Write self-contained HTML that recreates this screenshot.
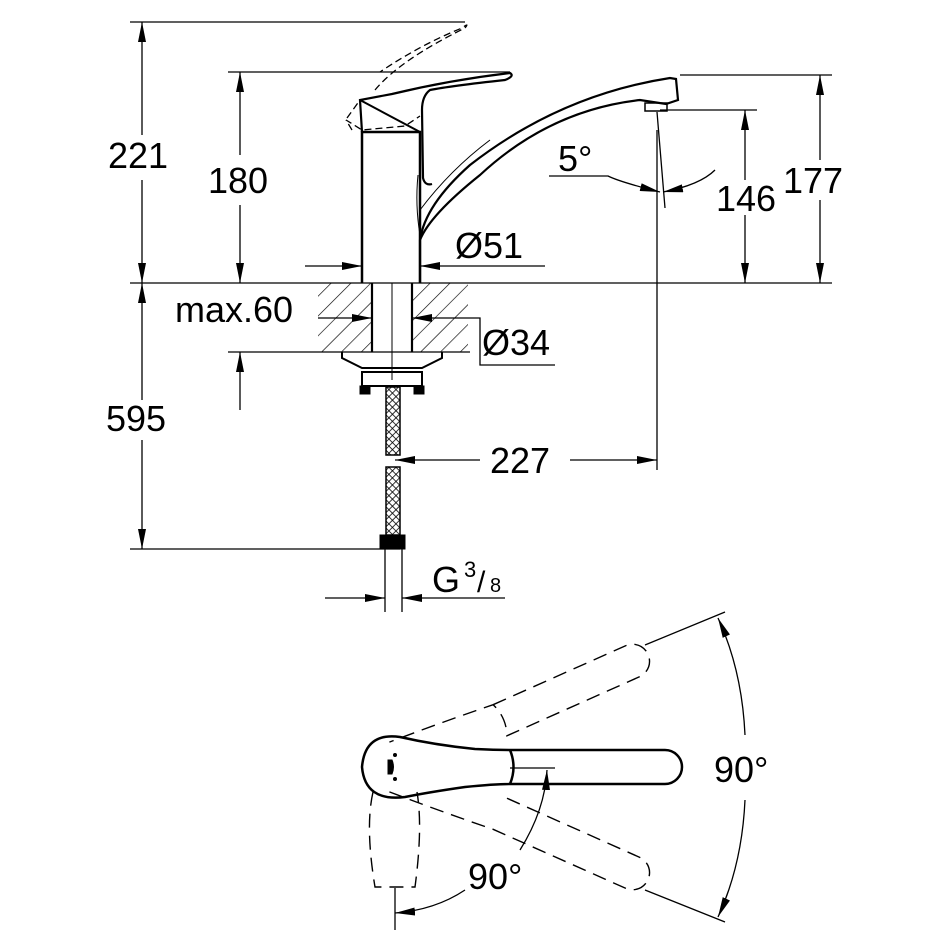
<!DOCTYPE html>
<html><head><meta charset="utf-8"><style>
html,body{margin:0;padding:0;background:#fff}
svg{display:block}
text{font-family:"Liberation Sans",Arial,sans-serif;font-size:36px;fill:#000}
</style></head><body>
<svg width="950" height="950" viewBox="0 0 950 950" xmlns="http://www.w3.org/2000/svg">
<defs>
<marker id="a" viewBox="0 0 20 8" refX="20" refY="4" markerWidth="20" markerHeight="8" markerUnits="userSpaceOnUse" orient="auto"><path d="M0,0 L20,4 L0,8z" fill="#000"/></marker>
<pattern id="h" width="14" height="14" patternUnits="userSpaceOnUse" patternTransform="rotate(45)"><line x1="0" y1="0" x2="0" y2="14" stroke="#000" stroke-width="1.3"/></pattern>
<pattern id="x" width="5" height="5" patternUnits="userSpaceOnUse" patternTransform="rotate(45)"><rect width="5" height="5" fill="#fff"/><line x1="0" y1="0" x2="0" y2="5" stroke="#000" stroke-width="1.6"/><line x1="0" y1="0" x2="5" y2="0" stroke="#000" stroke-width="1.6"/></pattern>
</defs>
<g stroke="#000" stroke-width="1.3" fill="none">
<line x1="130" y1="22" x2="465" y2="22"/>
<line x1="228" y1="72" x2="510" y2="72"/>
<line x1="130" y1="283" x2="832" y2="283"/>
<line x1="130" y1="549" x2="400" y2="549"/>
<line x1="228" y1="352" x2="470" y2="352"/>
<line x1="660" y1="110" x2="757" y2="110"/>
<line x1="680" y1="75" x2="832" y2="75"/>
<line x1="142" y1="135" x2="142" y2="22" marker-end="url(#a)"/>
<line x1="142" y1="180" x2="142" y2="283" marker-end="url(#a)"/>
<line x1="142" y1="400" x2="142" y2="283" marker-end="url(#a)"/>
<line x1="142" y1="440" x2="142" y2="549" marker-end="url(#a)"/>
<line x1="240" y1="155" x2="240" y2="72" marker-end="url(#a)"/>
<line x1="240" y1="205" x2="240" y2="283" marker-end="url(#a)"/>
<line x1="240" y1="410" x2="240" y2="352" marker-end="url(#a)"/>
<line x1="745" y1="180" x2="745" y2="110" marker-end="url(#a)"/>
<line x1="745" y1="215" x2="745" y2="283" marker-end="url(#a)"/>
<line x1="820" y1="160" x2="820" y2="75" marker-end="url(#a)"/>
<line x1="820" y1="200" x2="820" y2="283" marker-end="url(#a)"/>
<line x1="305" y1="266" x2="362" y2="266" marker-end="url(#a)"/>
<line x1="545" y1="266" x2="420" y2="266" marker-end="url(#a)"/>
<line x1="318" y1="318" x2="372" y2="318" marker-end="url(#a)"/>
<line x1="478" y1="318" x2="412" y2="318" marker-end="url(#a)"/>
<polyline points="478,318 480,318 480,365 555,365"/>
<line x1="657" y1="130" x2="657" y2="470"/>
<line x1="480" y1="460" x2="395" y2="460" marker-end="url(#a)"/>
<line x1="570" y1="460" x2="657" y2="460" marker-end="url(#a)"/>
<line x1="325" y1="598" x2="385" y2="598" marker-end="url(#a)"/>
<line x1="505" y1="598" x2="402" y2="598" marker-end="url(#a)"/>
<line x1="385" y1="549" x2="385" y2="612"/>
<line x1="402" y1="549" x2="402" y2="612"/>
<path d="M549,176 L608,176 Q620,182 660,192" marker-end="url(#a)"/>
<path d="M715,170 Q700,185 663,192" marker-end="url(#a)"/>
<line x1="657" y1="112" x2="665" y2="208"/>
</g>
<rect x="318" y="283" width="54" height="69" fill="url(#h)"/>
<rect x="412" y="283" width="56" height="69" fill="url(#h)"/>
<g stroke="#000" fill="none">
<line x1="372" y1="283" x2="372" y2="352" stroke-width="2.2"/>
<line x1="412" y1="283" x2="412" y2="352" stroke-width="2.2"/>
<line x1="392" y1="283" x2="392" y2="380" stroke-width="1"/>
<path d="M362,283 L362,132 L420,132 L420,283" stroke-width="2.5"/>
<path d="M420,283 L420,240 Q425,205 470,165 Q560,95 670,78 L676,79 L678,100 L666,104 L640,100 Q550,110 480,175 Q430,215 420,240" stroke-width="2.2"/>
<path d="M418,175 Q415,205 420,235" stroke-width="1"/>
<path d="M420,210 Q450,170 490,140" stroke-width="1"/>
<rect x="645" y="103" width="22" height="8" stroke-width="1.5"/>
<path d="M362,132 L360,100 L392,94 Q450,80 510,73 Q515,76 505,80 Q450,86 430,90 Q422,96 422,110 L423,178 Q425,186 432,184" stroke-width="2.2"/>
<path d="M360,100 L420,132" stroke-width="2"/>
<path d="M347,118 L360,100 M352,130 L346,120 L362,130 L405,126 L420,116" stroke-width="1.3" stroke-dasharray="7,4"/>
<path d="M375,90 Q400,60 465,28 Q470,22 462,28 Q420,45 380,72" stroke-width="1.3" stroke-dasharray="7,4"/>
<path d="M342,352 L342,358 L362,368 L422,368 L442,358 L442,352" stroke-width="2"/>
<rect x="362" y="372" width="60" height="14" stroke-width="2"/>
<rect x="360" y="386" width="10" height="8" fill="#000"/>
<rect x="414" y="386" width="10" height="8" fill="#000"/>
<rect x="386" y="387" width="14" height="68" stroke-width="1.5" fill="url(#x)"/>
<rect x="386" y="467" width="14" height="68" stroke-width="1.5" fill="url(#x)"/>
<rect x="380" y="535" width="25" height="14" fill="#000"/>
</g>
<g stroke="#000" fill="none">
<g transform="translate(395,767)">
<path d="M115,-17 L270,-17 A17,17 0 0 1 270,17 L115,17 Q100,17 70,20 Q35,25 10,30 Q-30,35 -33,0 Q-30,-35 5,-30 Q40,-22 80,-18 Q100,-17 115,-17 Q122,0 115,17" stroke-width="2.5"/>
<g transform="rotate(-24)" stroke-dasharray="14,8" stroke-width="1.4"><path d="M115,-17 L260,-17 A17,17 0 0 1 260,17 L115,17 Q122,0 115,-17 Q60,-22 5,-25"/></g>
<g transform="rotate(24)" stroke-dasharray="14,8" stroke-width="1.4"><path d="M115,-17 L260,-17 A17,17 0 0 1 260,17 L115,17 Q60,22 5,25"/></g>
<path d="M-22,25 Q-30,60 -20,120 L20,120 Q28,60 22,25" stroke-dasharray="14,8" stroke-width="1.4"/>
<path d="M-4,0 m-3,-7 l4,0 q3,7 0,14 l-4,0z" fill="#000"/>
<circle cx="0" cy="-12" r="1.5" fill="#000"/><circle cx="0" cy="12" r="1.5" fill="#000"/>
</g>
<line x1="510" y1="768" x2="555" y2="768" stroke-width="1.3"/>
<path d="M520,850 Q545,810 547,770" stroke-width="1.3" marker-end="url(#a)"/>
<line x1="395" y1="888" x2="395" y2="930" stroke-width="1.3"/>
<path d="M465,890 Q435,910 395,913" stroke-width="1.3" marker-end="url(#a)"/>
<line x1="645" y1="645" x2="725" y2="612" stroke-width="1.3"/>
<line x1="645" y1="890" x2="725" y2="922" stroke-width="1.3"/>
<path d="M745,735 Q742,670 718,618" stroke-width="1.3" marker-end="url(#a)"/>
<path d="M745,800 Q742,865 718,917" stroke-width="1.3" marker-end="url(#a)"/>
</g>
<text x="108" y="168">221</text>
<text x="208" y="193">180</text>
<text x="106" y="431">595</text>
<text x="175" y="322">max.60</text>
<text x="455" y="258">Ø51</text>
<text x="482" y="355">Ø34</text>
<text x="558" y="171">5°</text>
<text x="716" y="211">146</text>
<text x="783" y="193">177</text>
<text x="490" y="473">227</text>
<text x="432" y="592">G</text>
<text x="464" y="577" style="font-size:22px">3</text>
<text x="477" y="592" style="font-size:30px">/</text>
<text x="490" y="592" style="font-size:20px">8</text>
<text x="714" y="782">90°</text>
<text x="468" y="889">90°</text>
</svg>
</body></html>
